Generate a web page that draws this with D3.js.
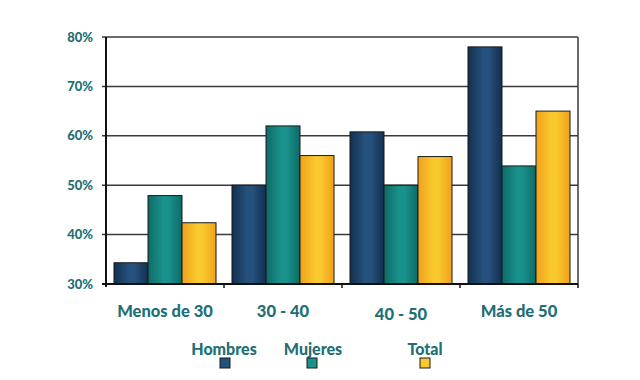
<!DOCTYPE html>
<html><head><meta charset="utf-8">
<script src="https://cdn.jsdelivr.net/npm/d3@7"></script>
<style>body{margin:0;background:#fff}svg{display:block}</style>
</head><body>
<svg id="c" width="640" height="380"></svg>
<script>
const categories = ["Menos de 30", "30 - 40", "40 - 50", "Más de 50"];
const seriesNames = ["Hombres", "Mujeres", "Total"];
const hombres = [34.3, 50, 60.8, 78];
const mujeres = [47.9, 62, 50, 53.9];
const total = [42.4, 56, 55.8, 65];
const yTicks = [30, 40, 50, 60, 70, 80];
const colors = [
  ["#12304f", "#25527d"],
  ["#0d6b66", "#1a928c"],
  ["#f0a11c", "#f9c92e"]
];
const textColor = "#216f74";
const font = "Lato, 'Open Sans', sans-serif";

const svg = d3.select("#c");
const m = {l: 106, r: 578, t: 37, b: 284};
const x = d3.scaleBand().domain(categories).range([m.l, m.r]).paddingInner(0).paddingOuter(0);
const xs = d3.scaleBand().domain(seriesNames).range([0, x.bandwidth()]).paddingInner(0).paddingOuter(0.235);
const y = d3.scaleLinear().domain([30, 80]).range([m.b, m.t]);

const defs = svg.append("defs");
colors.forEach((c, i) => {
  const g = defs.append("linearGradient").attr("id", "g" + i).attr("x1", 0).attr("x2", 1).attr("y1", 0).attr("y2", 0);
  g.append("stop").attr("offset", "0%").attr("stop-color", c[0]);
  g.append("stop").attr("offset", "45%").attr("stop-color", c[1]);
  g.append("stop").attr("offset", "60%").attr("stop-color", c[1]);
  g.append("stop").attr("offset", "100%").attr("stop-color", c[0]);
});

// gridlines
svg.append("g").selectAll("line").data(yTicks).join("line")
  .attr("x1", m.l - 4).attr("x2", m.r).attr("y1", d => y(d)).attr("y2", d => y(d))
  .attr("stroke", "#3a3a3a").attr("stroke-width", 1.5);
// right border
svg.append("line").attr("x1", m.r).attr("x2", m.r).attr("y1", m.t).attr("y2", m.b)
  .attr("stroke", "#3a3a3a").attr("stroke-width", 1.5);

// y labels
svg.append("g").selectAll("text").data(yTicks).join("text")
  .attr("x", m.l - 13).attr("y", d => y(d) + 4.5).attr("text-anchor", "end")
  .attr("fill", textColor).attr("font-family", font).attr("font-weight", 900).attr("font-size", 13)
  .text(d => d + "%");

const data = [hombres, mujeres, total];
data.forEach((vals, si) => {
  svg.append("g").selectAll("rect").data(vals).join("rect")
    .attr("x", (d, i) => x(categories[i]) + xs(seriesNames[si]))
    .attr("width", xs.bandwidth())
    .attr("y", d => y(d))
    .attr("height", d => y(30) - y(d))
    .attr("fill", "url(#g" + si + ")")
    .attr("stroke", "#1a1a1a").attr("stroke-width", 1);
});

// axes
svg.append("line").attr("x1", m.l).attr("x2", m.l).attr("y1", m.t).attr("y2", m.b + 3)
  .attr("stroke", "#111").attr("stroke-width", 2);
svg.append("line").attr("x1", m.l - 4).attr("x2", m.r).attr("y1", m.b).attr("y2", m.b)
  .attr("stroke", "#111").attr("stroke-width", 2);
svg.append("g").selectAll("line").data(categories).join("line")
  .attr("x1", (d, i) => m.l + x.bandwidth() * (i + 1)).attr("x2", (d, i) => m.l + x.bandwidth() * (i + 1))
  .attr("y1", m.b).attr("y2", m.b + 4).attr("stroke", "#111").attr("stroke-width", 1.5);

// category labels
svg.append("g").selectAll("text").data(categories).join("text")
  .attr("x", d => x(d) + x.bandwidth() / 2).attr("y", (d, i) => i === 2 ? 320 : 317)
  .attr("text-anchor", "middle").attr("fill", textColor).attr("font-family", font)
  .attr("font-weight", 900).attr("font-size", 16.5).text(d => d);

// legend
const legText = [224, 313, 425];
const legSq = [225, 312, 425];
seriesNames.forEach((s, i) => {
  svg.append("text").attr("x", legText[i]).attr("y", 355).attr("text-anchor", "middle")
    .attr("fill", textColor).attr("font-family", font).attr("font-weight", 900).attr("font-size", 16).text(s);
  svg.append("rect").attr("x", legSq[i] - 5).attr("y", 358).attr("width", 10).attr("height", 10)
    .attr("fill", colors[i][1]).attr("stroke", "#1a1a1a").attr("stroke-width", 1);
});
</script>
</body></html>
